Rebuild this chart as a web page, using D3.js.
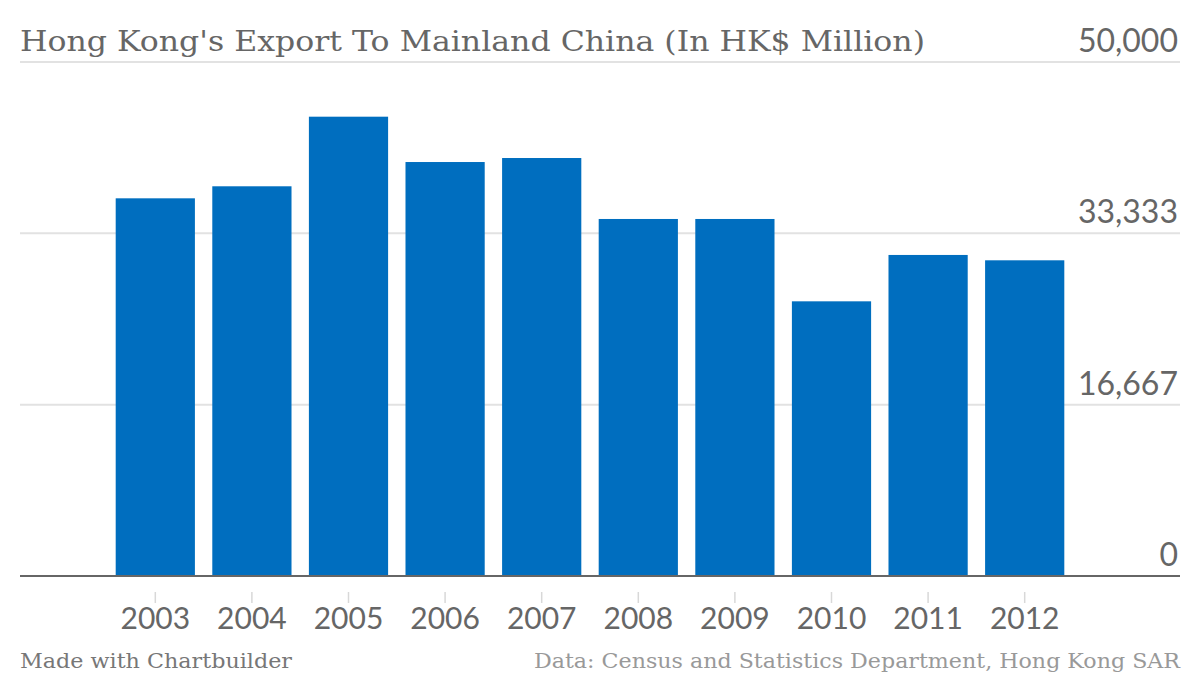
<!DOCTYPE html>
<html>
<head>
<meta charset="utf-8">
<script src="https://cdn.jsdelivr.net/npm/d3@7"></script>
<style>
  html, body { margin: 0; padding: 0; background: #fff; }
  svg { display: block; }
</style>
</head>
<body>
<svg id="chart" width="1200" height="676"></svg>
<script>
const years = ["2003", "2004", "2005", "2006", "2007", "2008", "2009", "2010", "2011", "2012"];
const exportsHKD = [36740, 37910, 44680, 40270, 40660, 34730, 34730, 26720, 31230, 30710];
const yTicks = [0, 16667, 33333, 50000];
const yTickLabels = ["0", "16,667", "33,333", "50,000"];
const titleText = "Hong Kong's Export To Mainland China (In HK$ Million)";
const creditText = "Made with Chartbuilder";
const sourceText = "Data: Census and Statistics Department, Hong Kong SAR";

const svg = d3.select("#chart");
const left = 20, right = 1180;

const x = d3.scaleBand().domain(years).range([107, 1073]).paddingInner(0.18).paddingOuter(0.09);
const y = d3.scaleLinear().domain([0, 50000]).range([576, 62]);

// gridlines + right labels
const grid = svg.append("g");
grid.selectAll("line").data(yTicks.filter(d => d > 0)).join("line")
  .attr("x1", left).attr("x2", right)
  .attr("y1", d => y(d)).attr("y2", d => y(d))
  .attr("stroke", "#e2e2e2").attr("stroke-width", 2);

svg.append("g").selectAll("text").data(yTicks).join("text")
  .attr("x", right - 2).attr("y", d => y(d) - 10)
  .attr("text-anchor", "end")
  .attr("font-family", "Lato, 'Noto Sans', sans-serif")
  .attr("font-size", 32).attr("fill", "#666")
  .text((d, i) => yTickLabels[i]);

// bars
svg.append("g").selectAll("rect").data(years).join("rect")
  .attr("x", d => x(d)).attr("width", x.bandwidth())
  .attr("y", (d, i) => y(exportsHKD[i]))
  .attr("height", (d, i) => y(0) - y(exportsHKD[i]))
  .attr("fill", "#006EBF");

// baseline
svg.append("line").attr("x1", left).attr("x2", right)
  .attr("y1", y(0)).attr("y2", y(0))
  .attr("stroke", "#666").attr("stroke-width", 2);

// x axis
const xAxis = d3.axisBottom(x).tickSize(11).tickSizeOuter(0).tickPadding(0);
const gx = svg.append("g").attr("transform", "translate(0,592)").call(xAxis);
gx.select(".domain").remove();
gx.selectAll(".tick line").attr("stroke", "#d8d8d8").attr("stroke-width", 1.5);
gx.selectAll(".tick text").attr("dy", null).attr("y", 37)
  .attr("font-family", "Lato, 'Noto Sans', sans-serif")
  .attr("font-size", 30).attr("fill", "#666");

// title
svg.append("text").attr("x", left).attr("y", 51)
  .attr("font-family", "'DejaVu Serif', serif")
  .attr("font-size", 28).attr("fill", "#666")
  .attr("textLength", 905).attr("lengthAdjust", "spacingAndGlyphs")
  .text(titleText);

// footer
svg.append("text").attr("x", left).attr("y", 668)
  .attr("font-family", "'DejaVu Serif', serif")
  .attr("font-size", 20).attr("fill", "#777")
  .attr("textLength", 272).attr("lengthAdjust", "spacingAndGlyphs")
  .text(creditText);
svg.append("text").attr("x", right).attr("y", 668)
  .attr("text-anchor", "end")
  .attr("font-family", "'DejaVu Serif', serif")
  .attr("font-size", 20).attr("fill", "#999")
  .attr("textLength", 646).attr("lengthAdjust", "spacingAndGlyphs")
  .text(sourceText);
</script>
</body>
</html>
